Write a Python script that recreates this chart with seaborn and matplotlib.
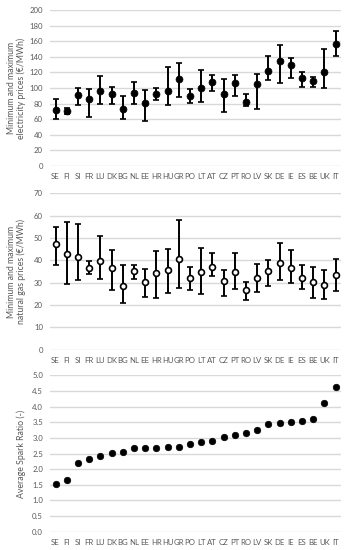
import matplotlib
matplotlib.use("Agg")
import matplotlib.pyplot as plt
import seaborn as sns
import pandas as pd

countries = ["SE", "FI", "SI", "FR", "LU", "DK", "BG", "NL", "EE", "HR", "HU", "GR", "PO",
             "LT", "AT", "CZ", "PT", "RO", "LV", "SK", "DE", "IE", "ES", "BE", "UK", "IT"]

elec_mid = [71.6, 70.4, 90.8, 85.3, 96.0, 92.5, 73.3, 93.0, 81.0, 91.7, 96.4, 110.9, 90.0,
            99.4, 107.5, 92.5, 107.0, 82.3, 104.9, 122.0, 135.2, 129.2, 113.0, 109.2, 120.3, 155.7]
elec_min = [60.1, 66.1, 78.5, 63.1, 79.3, 79.7, 60.1, 79.3, 58.0, 84.9, 78.0, 89.0, 81.0,
            82.7, 96.0, 69.5, 89.6, 77.2, 72.9, 110.0, 106.2, 112.6, 101.5, 101.5, 99.8, 141.6]
elec_max = [85.7, 74.6, 100.2, 98.9, 115.6, 101.5, 90.0, 108.3, 96.8, 100.6, 127.0, 131.8, 98.5,
            123.2, 116.8, 111.3, 116.8, 91.7, 118.1, 141.2, 155.2, 138.6, 121.1, 114.3, 150.5, 173.1]

gas_mid = [47.3, 42.8, 41.3, 36.6, 39.9, 36.4, 28.7, 35.1, 30.4, 34.2, 35.5, 40.6, 31.9,
           34.6, 37.2, 30.6, 34.8, 26.6, 32.2, 35.4, 38.8, 36.7, 31.9, 30.3, 29.1, 33.6]
gas_min = [37.8, 29.6, 31.3, 33.7, 31.8, 26.9, 21.0, 31.5, 23.7, 23.0, 25.2, 27.8, 26.6,
           24.9, 33.1, 24.0, 27.3, 22.2, 25.8, 28.7, 31.2, 29.9, 27.0, 23.3, 22.7, 26.3]
gas_max = [54.9, 57.3, 56.4, 39.9, 50.9, 44.6, 37.9, 38.1, 36.3, 44.3, 45.1, 57.9, 36.9,
           45.4, 43.3, 35.5, 43.4, 30.3, 38.4, 40.3, 47.9, 44.8, 38.1, 37.0, 35.8, 40.7]

spark = [1.51, 1.64, 2.20, 2.34, 2.41, 2.53, 2.55, 2.66, 2.66, 2.68, 2.71, 2.72, 2.79,
         2.86, 2.89, 3.02, 3.09, 3.14, 3.26, 3.44, 3.48, 3.51, 3.53, 3.60, 4.12, 4.64]

sns.set_theme(style="white")
plt.rcParams["font.family"] = ["Lato", "DejaVu Sans"]

TXT = "#595959"
GRID = "#d9d9d9"

fig = plt.figure(figsize=(3.47, 5.5), dpi=100)
L, W = 0.144, 0.839
ax1 = fig.add_axes([L, 0.698, W, 0.284])
ax2 = fig.add_axes([L, 0.364, W, 0.2845])
ax3 = fig.add_axes([L, 0.0333, W, 0.2843])

df = pd.DataFrame({"country": countries, "elec": elec_mid, "elo": elec_min, "ehi": elec_max,
                   "gas": gas_mid, "glo": gas_min, "ghi": gas_max, "spark": spark})
xpos = list(range(len(countries)))


def style(ax, ymax, step, fmt, ylabel):
    ax.set_ylim(0, ymax)
    ax.set_xlim(-0.5, len(countries) - 0.5)
    ticks = [i * step for i in range(int(round(ymax / step)) + 1)]
    ax.set_yticks(ticks)
    ax.set_yticklabels([fmt.format(t) for t in ticks])
    ax.set_xticks(xpos)
    ax.set_xticklabels(countries)
    for s in ax.spines.values():
        s.set_visible(False)
    ax.grid(axis="y", color=GRID, linewidth=1.0)
    ax.grid(axis="x", visible=False)
    ax.set_axisbelow(True)
    ax.tick_params(axis="both", length=0, labelsize=5.6, colors=TXT)
    ax.tick_params(axis="x", pad=5)
    ax.tick_params(axis="y", pad=5)
    ax.set_xlabel("")
    ax.set_ylabel(ylabel, fontsize=6.3, color=TXT, linespacing=1.1)


# electricity
ax1.errorbar(xpos, df["elec"], yerr=[df["elec"] - df["elo"], df["ehi"] - df["elec"]],
             fmt="none", ecolor="black", elinewidth=1.4, capsize=2.2, capthick=1.2, zorder=2)
sns.scatterplot(data=df, x="country", y="elec", ax=ax1, color="black", s=25,
                edgecolor="black", linewidth=0.5, zorder=3)
style(ax1, 200, 20, "{:.0f}", "Minimum and maximum\nelectricity prices (€/MWh)")

# gas
ax2.errorbar(xpos, df["gas"], yerr=[df["gas"] - df["glo"], df["ghi"] - df["gas"]],
             fmt="none", ecolor="black", elinewidth=1.4, capsize=2.2, capthick=1.2, zorder=2)
sns.scatterplot(data=df, x="country", y="gas", ax=ax2, color="white", s=18,
                edgecolor="black", linewidth=1.2, zorder=3)
style(ax2, 70, 10, "{:.0f}", "Minimum and maximum\nnatural gas prices (€/MWh)")

# spark ratio
sns.scatterplot(data=df, x="country", y="spark", ax=ax3, color="black", s=22,
                edgecolor="black", linewidth=0.5, zorder=3)
style(ax3, 5.0, 0.5, "{:.1f}", "Average Spark Ratio (-)")

for ax in (ax1, ax2, ax3):
    ax.yaxis.set_label_coords(-0.082, 0.5)

fig.savefig("out.png", dpi=100, facecolor="white")
